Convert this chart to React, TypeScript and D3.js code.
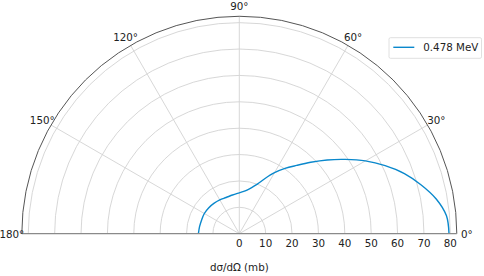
import React from "react";
import * as d3 from "d3";

const angles = [0, 5, 10, 15, 20, 25, 30, 35, 40, 45, 50, 55, 60, 65, 70, 75, 80, 85, 90, 100, 110, 120, 130, 140, 150, 160, 170, 180];
const values = [79.5, 78.8, 75.8, 71.4, 66.6, 61.0, 55.2, 49.1, 43.5, 38.3, 33.8, 30.2, 26.7, 23.1, 20.0, 18.1, 16.8, 16.0, 15.5, 14.9, 14.6, 14.8, 15.0, 15.2, 15.3, 15.2, 15.3, 15.5];
const radialTicks = [0, 10, 20, 30, 40, 50, 60, 70, 80];
const thetaTicks = [0, 30, 60, 90, 120, 150, 180];
const seriesName = "0.478 MeV";
const axisTitle = "dσ/dΩ (mb)";

const W = 484, H = 276;
const cx = 239.3, cy = 233.7;
const R = 217.5;
const rMax = 82.45;
const font = "DejaVu Sans, sans-serif";

export default function App() {
  const r = d3.scaleLinear().domain([0, rMax]).range([0, R]);
  const toRad = (deg: number) => (deg * Math.PI) / 180;
  const px = (deg: number, v: number) => cx + r(v) * Math.cos(toRad(deg));
  const py = (deg: number, v: number) => cy - r(v) * Math.sin(toRad(deg));

  const pts: [number, number][] = angles.map((a, i) => [px(a, values[i]), py(a, values[i])]);
  const line = d3.line<[number, number]>().curve(d3.curveCatmullRom.alpha(0.5));
  const arc = (v: number) => {
    const rr = r(v);
    return `M${cx + rr},${cy} A${rr},${rr} 0 0 0 ${cx - rr},${cy}`;
  };

  return (
    <svg width={W} height={H} style={{ position: "absolute", left: 0, top: 0 }} fontFamily={font}>
      <rect x={0} y={0} width={W} height={H} fill="white" />
      {radialTicks.filter((t) => t > 0).map((t) => (
        <path key={"ring" + t} d={arc(t)} fill="none" stroke="#d2d2d2" strokeWidth={0.9} />
      ))}
      {thetaTicks.filter((a) => a > 0 && a < 180).map((a) => (
        <line key={"spoke" + a} x1={cx} y1={cy} x2={px(a, rMax)} y2={py(a, rMax)} stroke="#d2d2d2" strokeWidth={0.9} />
      ))}
      <path d={line(pts) || ""} fill="none" stroke="#0a88cc" strokeWidth={1.4} />
      <path d={arc(rMax)} fill="none" stroke="#555" strokeWidth={1} />
      <line x1={cx - R} y1={cy} x2={cx + R} y2={cy} stroke="#8a8a8a" strokeWidth={1.2} />
      {thetaTicks.map((a) => (
        <text
          key={"tl" + a}
          x={cx + (R + 10) * Math.cos(toRad(a))}
          y={cy - (R + 10) * Math.sin(toRad(a))}
          textAnchor="middle"
          dominantBaseline="central"
          fontSize={10.3}
          fill="#222"
        >
          {a}°
        </text>
      ))}
      {radialTicks.map((t) => (
        <text key={"rt" + t} x={px(0, t)} y={246.6} textAnchor="middle" fontSize={10.3} fill="#222">
          {t}
        </text>
      ))}
      <text x={cx} y={270.5} textAnchor="middle" fontSize={10.3} fill="#222">
        {axisTitle}
      </text>
      <g>
        <rect x={389} y={37.7} width={92.5} height={20.6} fill="white" stroke="#dcdcdc" strokeWidth={0.9} rx={1.5} />
        <line x1={393.3} y1={47.3} x2={414.3} y2={47.3} stroke="#0a88cc" strokeWidth={1.4} />
        <text x={423.3} y={51.2} fontSize={10.3} fill="#222">
          {seriesName}
        </text>
      </g>
    </svg>
  );
}
